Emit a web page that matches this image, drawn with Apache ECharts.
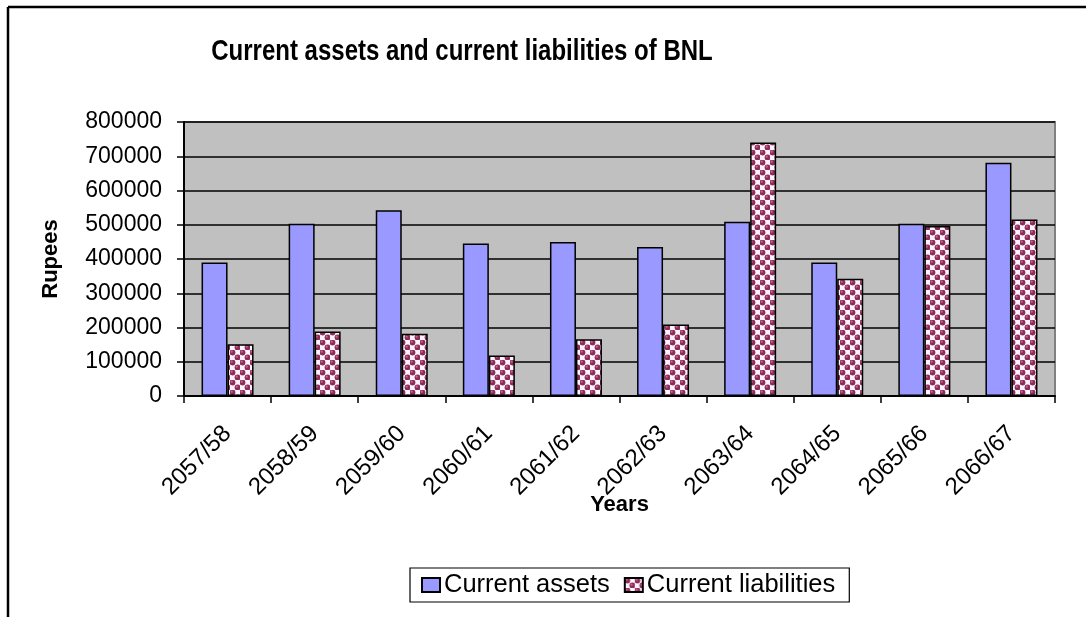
<!DOCTYPE html>
<html>
<head>
<meta charset="utf-8">
<title>Current assets and current liabilities of BNL</title>
<script src="https://cdn.jsdelivr.net/npm/echarts@6/dist/echarts.min.js"></script>
<style>
  html, body { margin: 0; padding: 0; background: #ffffff; }
  #chart { width: 1086px; height: 617px; }
</style>
</head>
<body>
<div id="chart"></div>
<script>
// Fiscal years (Nepali calendar)
const years = ['2057/58', '2058/59', '2059/60', '2060/61', '2061/62',
               '2062/63', '2063/64', '2064/65', '2065/66', '2066/67'];
// Amounts in rupees
const currentAssets = [390000, 503000, 542000, 445000, 450000,
                       435000, 509000, 390000, 503000, 681000];
const currentLiabilities = [151000, 188000, 182000, 118000, 166000,
                            209000, 740000, 342000, 496000, 515000];
const yTicks = { min: 0, max: 800000, step: 100000 };

const FONT = 'Liberation Sans, Arial, Helvetica, sans-serif';

// Bubble / checker fill used for the liabilities bars
function makeBubbleTile() {
  const s = 10;
  const c = document.createElement('canvas');
  c.width = s; c.height = s;
  const g = c.getContext('2d');
  g.fillStyle = '#f2c4de';
  g.fillRect(0, 0, s, s);
  g.fillStyle = '#fff4fb';
  g.fillRect(5, 0, 5, 5);
  g.fillRect(0, 5, 5, 5);
  const bubble = (cx, cy) => {
    g.beginPath();
    g.arc(cx, cy, 2.9, 0, Math.PI * 2);
    g.fillStyle = '#8c2c5a';
    g.fill();
    g.beginPath();
    g.arc(cx - 0.8, cy - 0.8, 1.1, 0, Math.PI * 2);
    g.fillStyle = '#c4668f';
    g.fill();
  };
  bubble(2.5, 2.5);
  bubble(7.5, 7.5);
  return c;
}
const bubbleFill = { image: makeBubbleTile(), repeat: 'repeat' };

const chart = echarts.init(document.getElementById('chart'), null, { renderer: 'canvas' });

chart.setOption({
  animation: false,
  backgroundColor: '#ffffff',
  textStyle: { fontFamily: FONT, color: '#000' },
  graphic: [
    // frame around the chart
    { type: 'line', shape: { x1: 8, y1: 7, x2: 1086, y2: 7 },
      style: { stroke: '#000', lineWidth: 2.5 } },
    { type: 'line', shape: { x1: 8, y1: 7, x2: 8, y2: 617 },
      style: { stroke: '#000', lineWidth: 2.5 } },
    // chart heading, drawn slightly tall
    { type: 'text', x: 462, y: 52, scaleY: 1.22,
      style: { text: 'Current assets and current liabilities of BNL',
               fill: '#000', font: 'bold 24px ' + FONT,
               align: 'center', verticalAlign: 'middle' } }
  ],
  grid: {
    left: 184, top: 122, right: 31, bottom: 221,
    show: true, backgroundColor: '#c0c0c0',
    borderColor: '#808080', borderWidth: 2
  },
  legend: {
    left: 410, top: 568,
    padding: [4, 14, 4, 11],
    itemGap: 14,
    itemWidth: 18, itemHeight: 14,
    icon: 'rect',
    borderColor: '#000', borderWidth: 1.2,
    textStyle: { fontSize: 25.5, fontFamily: FONT, color: '#000', padding: [0, 0, 0, -1] },
    data: ['Current assets', 'Current liabilities']
  },
  xAxis: {
    type: 'category',
    data: years,
    boundaryGap: true,
    name: 'Years',
    nameLocation: 'middle',
    nameGap: 98,
    nameMoveOverlap: false,
    nameTextStyle: { fontSize: 22, fontWeight: 'bold', fontFamily: FONT, color: '#000' },
    axisLine: { lineStyle: { color: '#000', width: 2 } },
    axisTick: { show: true, alignWithLabel: false, length: 7, lineStyle: { color: '#000', width: 1.5 } },
    axisLabel: { rotate: 45, margin: 34, fontSize: 24, fontFamily: FONT, color: '#000', interval: 0 },
    splitLine: { show: false }
  },
  yAxis: {
    type: 'value',
    min: yTicks.min, max: yTicks.max, interval: yTicks.step,
    name: 'Rupees',
    nameLocation: 'middle',
    nameRotate: 90,
    nameGap: 122,
    nameMoveOverlap: false,
    nameTextStyle: { fontSize: 22, fontWeight: 'bold', fontFamily: FONT, color: '#000' },
    axisLine: { show: true, lineStyle: { color: '#000', width: 2 } },
    axisTick: { show: true, length: 7, lineStyle: { color: '#000', width: 1.5 } },
    axisLabel: { margin: 22, fontSize: 23, fontFamily: FONT, color: '#000',
                 formatter: v => String(v) },
    splitLine: { show: true, lineStyle: { color: '#000', width: 1.5 } }
  },
  series: [
    {
      name: 'Current assets',
      type: 'bar',
      data: currentAssets,
      barWidth: 26,
      barGap: '0%',
      itemStyle: { color: '#9999ff', borderColor: '#000', borderWidth: 1.5 }
    },
    {
      name: 'Current liabilities',
      type: 'bar',
      data: currentLiabilities,
      barWidth: 26,
      barGap: '0%',
      itemStyle: { color: bubbleFill, borderColor: '#000', borderWidth: 1.5 }
    }
  ]
});
</script>
</body>
</html>
